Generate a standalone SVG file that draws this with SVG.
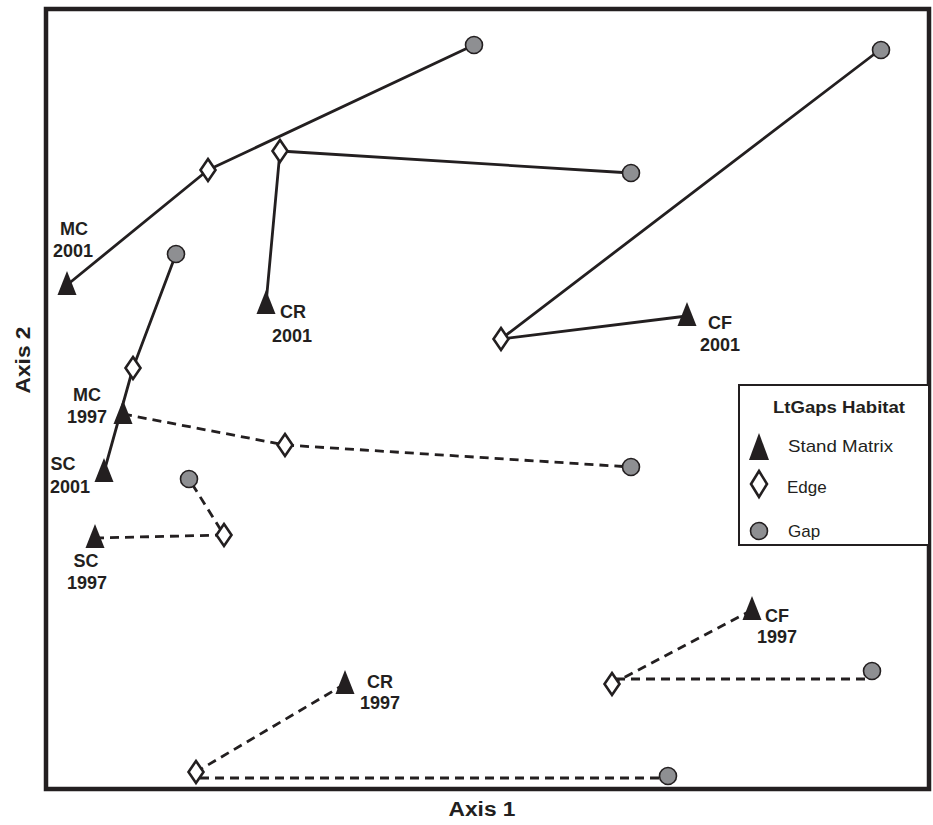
<svg xmlns="http://www.w3.org/2000/svg" xmlns:xlink="http://www.w3.org/1999/xlink" width="933" height="825" viewBox="0 0 933 825">
<style>
.ln{fill:none;stroke:#231f20;stroke-width:2.8;stroke-linejoin:round}
.da{stroke-dasharray:9,6}
.tri{fill:#231f20}
.dia{fill:#fff;stroke:#231f20;stroke-width:2.6}
.gap{fill:#8e8f92;stroke:#231f20;stroke-width:1.6}
.lb{font-family:"Liberation Sans",Arial,sans-serif;font-weight:bold;font-size:18px;fill:#231f20;text-anchor:middle}
.lg{font-family:"Liberation Sans",Arial,sans-serif;font-size:17px;fill:#231f20}
</style>
<defs>
<path id="T" d="M0,-14 L9.5,10 L-9.5,10 Z"/>
<path id="D" d="M0,-11 L7.5,0 L0,11 L-7.5,0 Z"/>
</defs>
<rect width="933" height="825" fill="#fff"/>
<rect id="frame" x="46" y="9" width="883" height="780" fill="none" stroke="#231f20" stroke-width="4.5"/>
<g id="connectors">
<polyline class="ln" points="67,285 208,170 474,45"/>
<polyline class="ln" points="266,304 280,151 631,173"/>
<polyline class="ln" points="687,316 501,339 881,49"/>
<polyline class="ln" points="104,472 133,368 176,254"/>
<polyline class="ln da" points="123,414 285,445 631,467"/>
<polyline class="ln da" points="95,538 224,535 189,479"/>
<polyline class="ln da" points="752,610 612,684"/>
<polyline class="ln da" points="616,679 866,679"/>
<polyline class="ln da" points="345,684 196,772"/>
<polyline class="ln da" points="200,778 662,778"/>
</g>
<g id="gaps">
<circle class="gap" cx="474" cy="45" r="8.5"/>
<circle class="gap" cx="631" cy="173" r="8.5"/>
<circle class="gap" cx="881" cy="50" r="8.5"/>
<circle class="gap" cx="176" cy="254" r="8.5"/>
<circle class="gap" cx="631" cy="467" r="8.5"/>
<circle class="gap" cx="189" cy="479" r="8.5"/>
<circle class="gap" cx="872" cy="671" r="8.5"/>
<circle class="gap" cx="668" cy="776" r="8.5"/>
</g>
<g id="edges">
<use xlink:href="#D" class="dia" x="208" y="170"/>
<use xlink:href="#D" class="dia" x="280" y="151"/>
<use xlink:href="#D" class="dia" x="501" y="339"/>
<use xlink:href="#D" class="dia" x="133" y="368"/>
<use xlink:href="#D" class="dia" x="285" y="445"/>
<use xlink:href="#D" class="dia" x="224" y="535"/>
<use xlink:href="#D" class="dia" x="612" y="684"/>
<use xlink:href="#D" class="dia" x="196" y="772"/>
</g>
<g id="MC2001"><use xlink:href="#T" class="tri" x="67" y="285"/><text class="lb" x="74" y="235">MC</text><text class="lb" x="73" y="257">2001</text></g>
<g id="CR2001"><use xlink:href="#T" class="tri" x="266" y="304"/><text class="lb" x="293" y="318">CR</text><text class="lb" x="292" y="342">2001</text></g>
<g id="CF2001"><use xlink:href="#T" class="tri" x="687" y="316"/><text class="lb" x="720" y="329">CF</text><text class="lb" x="720" y="351">2001</text></g>
<g id="MC1997"><use xlink:href="#T" class="tri" x="123" y="414"/><text class="lb" x="87" y="401">MC</text><text class="lb" x="87" y="423">1997</text></g>
<g id="SC2001"><use xlink:href="#T" class="tri" x="104" y="472"/><text class="lb" x="63" y="470">SC</text><text class="lb" x="70" y="493">2001</text></g>
<g id="SC1997"><use xlink:href="#T" class="tri" x="95" y="538"/><text class="lb" x="86" y="567">SC</text><text class="lb" x="87" y="589">1997</text></g>
<g id="CR1997"><use xlink:href="#T" class="tri" x="345" y="684"/><text class="lb" x="380" y="688">CR</text><text class="lb" x="380" y="709">1997</text></g>
<g id="CF1997"><use xlink:href="#T" class="tri" x="752" y="610"/><text class="lb" x="777" y="622">CF</text><text class="lb" x="777" y="643">1997</text></g>
<g id="legend">
<rect x="739" y="385" width="190" height="160" fill="#fff" stroke="#231f20" stroke-width="2"/>
<text class="lb" x="773" y="413" style="text-anchor:start;font-size:16px" textLength="132" lengthAdjust="spacingAndGlyphs">LtGaps Habitat</text>
<path class="tri" d="M759,433 L769,460 L749,460 Z"/>
<text class="lg" x="788" y="452" textLength="105" lengthAdjust="spacingAndGlyphs">Stand Matrix</text>
<path class="dia" d="M759,471 L767,484 L759,497 L751,484 Z"/>
<text class="lg" x="787" y="493">Edge</text>
<circle class="gap" cx="759" cy="531" r="8.5"/>
<text class="lg" x="788" y="537">Gap</text>
</g>
<g id="axes">
<text class="lb" x="482" y="816" style="font-size:20px" textLength="67" lengthAdjust="spacingAndGlyphs">Axis 1</text>
<text class="lb" transform="translate(30,360) rotate(-90)" style="font-size:20px" textLength="67" lengthAdjust="spacingAndGlyphs">Axis 2</text>
</g>
</svg>
